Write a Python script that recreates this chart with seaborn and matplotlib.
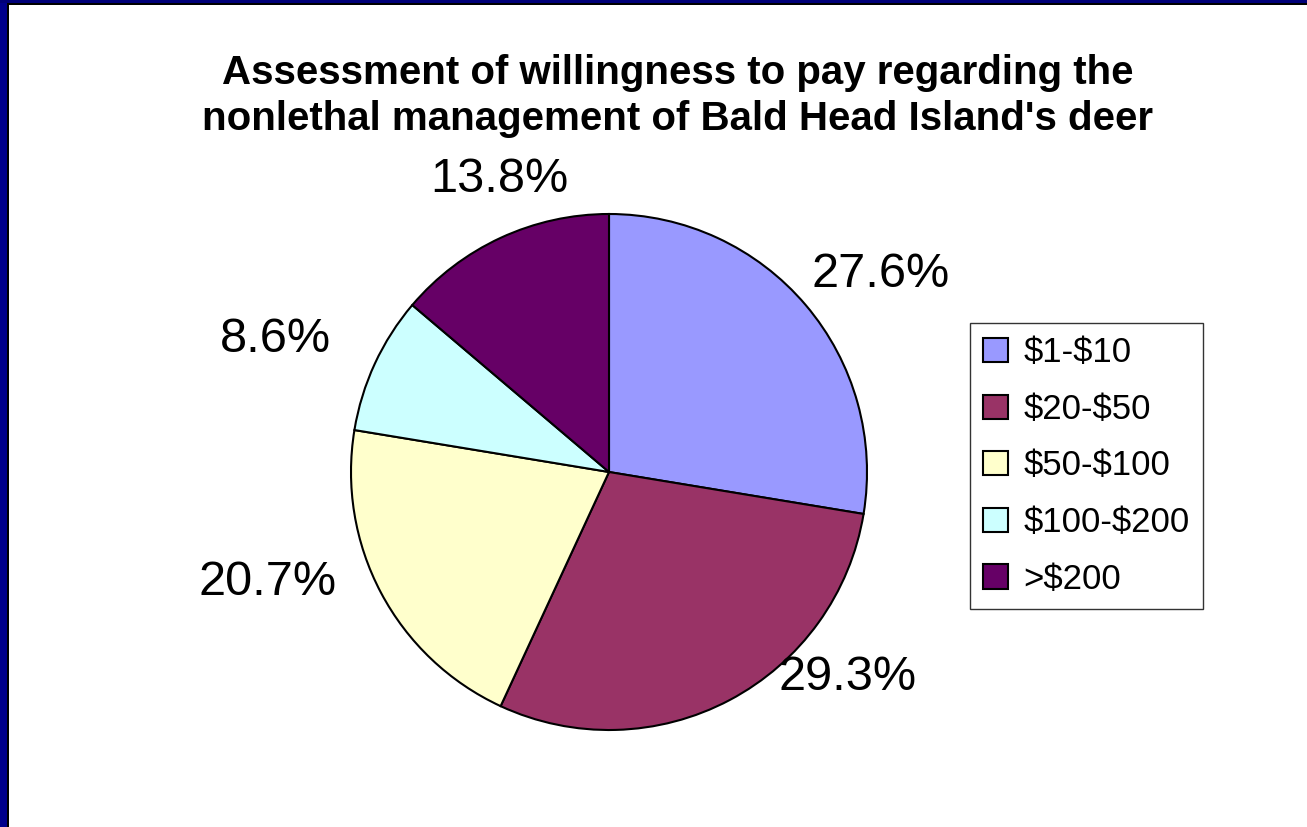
import matplotlib
matplotlib.use("Agg")
import matplotlib.pyplot as plt
import seaborn as sns
import numpy as np
from matplotlib.patches import Rectangle, Patch

# data
categories = ["$1-$10", "$20-$50", "$50-$100", "$100-$200", ">$200"]
shares = [27.6, 29.3, 20.7, 8.6, 13.8]
slice_colors = ["#9999FF", "#993366", "#FFFFCC", "#CCFFFF", "#660066"]
title = ("Assessment of willingness to pay regarding the\n"
         "nonlethal management of Bald Head Island's deer")

sns.set_style("white")
plt.rcParams["font.family"] = ["Liberation Sans", "DejaVu Sans"]
plt.rcParams["text.color"] = "black"
plt.rcParams["text.parse_math"] = False

W, H = 1307, 827
fig = plt.figure(figsize=(W / 100, H / 100), dpi=100)
fig.patch.set_facecolor("white")

# slide frame: blue strip on the left and top with a thin black inner line
fig.patches.append(Rectangle((0, 0), 9 / W, 1, transform=fig.transFigure,
                             facecolor="black", edgecolor="none", zorder=0))
fig.patches.append(Rectangle((0, 0), 7 / W, 1, transform=fig.transFigure,
                             facecolor="#00008C", edgecolor="none", zorder=1))
fig.patches.append(Rectangle((0, 1 - 5 / H), 1, 5 / H, transform=fig.transFigure,
                             facecolor="black", edgecolor="none", zorder=0))
fig.patches.append(Rectangle((0, 1 - 3 / H), 1, 3 / H, transform=fig.transFigure,
                             facecolor="#000078", edgecolor="none", zorder=1))

# pie axes: centre at (609, 472) px, radius 258 px
R = 258
cx, cy = 609, 472
hw, hh = 400, 340
ax = fig.add_axes([(cx - hw) / W, (H - cy - hh) / H, 2 * hw / W, 2 * hh / H])

wedges, texts = ax.pie(
    shares,
    colors=slice_colors,
    startangle=90,
    counterclock=False,
    labels=[f"{s:.1f}%" for s in shares],
    labeldistance=1.3,
    wedgeprops=dict(edgecolor="black", linewidth=1.5),
    textprops=dict(fontsize=35, color="black"),
)
ax.set_xlim(-hw / R, hw / R)
ax.set_ylim(-hh / R, hh / R)
ax.set_aspect("equal")
ax.axis("off")

# Excel-style label placement (angle in degrees, radius in pie units)
label_place = [(36, 1.30), (-40.8, 1.22), (-162, 1.39), (158.4, 1.39), (110.5, 1.21)]
for t, (ang, dist) in zip(texts, label_place):
    a = np.deg2rad(ang)
    t.set_position((dist * np.cos(a), dist * np.sin(a)))
    t.set_ha("center")
    t.set_va("center")

fig.text(678 / W, 1 - 96 / H, title, ha="center", va="center",
         fontsize=29, fontweight="bold", linespacing=1.25)

handles = [Patch(facecolor=c, edgecolor="black", linewidth=1.5) for c in slice_colors]
leg = fig.legend(handles, categories, loc="upper left",
                 bbox_to_anchor=(970 / W, 1 - 323 / H), borderaxespad=0,
                 fontsize=25, frameon=True, fancybox=False, shadow=False,
                 handlelength=0.7, handleheight=0.7, handletextpad=0.45,
                 labelspacing=0.68, borderpad=0.38)
leg.get_frame().set_edgecolor("black")
leg.get_frame().set_linewidth(1.0)

fig.savefig("out.png", dpi=100, facecolor="white")
